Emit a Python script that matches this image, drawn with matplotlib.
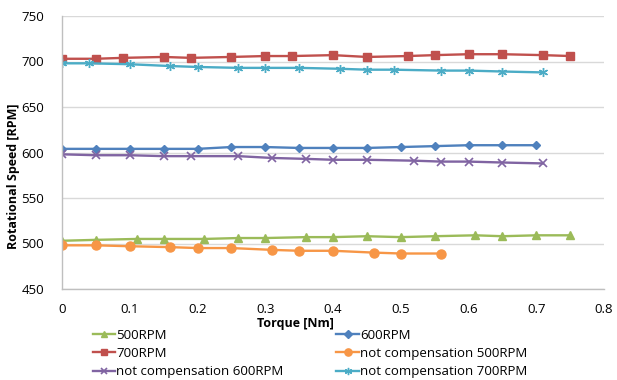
import matplotlib
matplotlib.use("Agg")
import matplotlib.pyplot as plt

plt.rcParams['font.family'] = ['Open Sans', 'DejaVu Sans']

# torque [Nm] and speed [RPM]
x_500 = [0, 0.05, 0.11, 0.15, 0.21, 0.26, 0.30, 0.36, 0.40, 0.45, 0.50, 0.55, 0.61, 0.65, 0.70, 0.75]
y_500 = [503, 504, 505, 505, 505, 506, 506, 507, 507, 508, 507, 508, 509, 508, 509, 509]

x_600 = [0, 0.05, 0.10, 0.15, 0.20, 0.25, 0.30, 0.35, 0.40, 0.45, 0.50, 0.55, 0.60, 0.65, 0.70]
y_600 = [604, 604, 604, 604, 604, 606, 606, 605, 605, 605, 606, 607, 608, 608, 608]

x_700 = [0, 0.05, 0.09, 0.15, 0.19, 0.25, 0.30, 0.34, 0.40, 0.45, 0.51, 0.55, 0.60, 0.65, 0.71, 0.75]
y_700 = [703, 703, 704, 705, 704, 705, 706, 706, 707, 705, 706, 707, 708, 708, 707, 706]

x_nc500 = [0, 0.05, 0.10, 0.16, 0.20, 0.25, 0.31, 0.35, 0.40, 0.46, 0.50, 0.56]
y_nc500 = [498, 498, 497, 496, 495, 495, 493, 492, 492, 490, 489, 489]

x_nc600 = [0, 0.05, 0.10, 0.15, 0.19, 0.26, 0.31, 0.36, 0.40, 0.45, 0.52, 0.56, 0.60, 0.65, 0.71]
y_nc600 = [598, 597, 597, 596, 596, 596, 594, 593, 592, 592, 591, 590, 590, 589, 588]

x_nc700 = [0, 0.04, 0.10, 0.16, 0.20, 0.26, 0.30, 0.35, 0.41, 0.45, 0.49, 0.56, 0.60, 0.65, 0.71]
y_nc700 = [698, 698, 697, 695, 694, 693, 693, 693, 692, 691, 691, 690, 690, 689, 688]

x_ticks = [0, 0.1, 0.2, 0.3, 0.4, 0.5, 0.6, 0.7, 0.8]
x_labels = ['0', '0.1', '0.2', '0.3', '0.4', '0.5', '0.6', '0.7', '0.8']
y_ticks = [450, 500, 550, 600, 650, 700, 750]

fig = plt.figure(figsize=(6.17, 3.80), dpi=100)
ax = fig.add_axes([62 / 617, 1 - 289 / 380, (604 - 62) / 617, (289 - 16) / 380])

lw = 1.7
h1, = ax.plot(x_500, y_500, color='#9BBB59', lw=lw, marker='^', ms=6, label='500RPM')
h2, = ax.plot(x_600, y_600, color='#4F81BD', lw=lw, marker='D', ms=4.5, label='600RPM')
h3, = ax.plot(x_700, y_700, color='#C0504D', lw=lw, marker='s', ms=6, label='700RPM')
h4, = ax.plot(x_nc500, y_nc500, color='#F79646', lw=lw, marker='o', ms=6.5,
              label='not compensation 500RPM')
h5, = ax.plot(x_nc600, y_nc600, color='#8064A2', lw=lw, marker='x', ms=5.5, mew=1.2,
              label='not compensation 600RPM')
h6, = ax.plot(x_nc700, y_nc700, color='#4BACC6', lw=lw, marker=(6, 2, 0), ms=6.5, mew=1.0,
              label='not compensation 700RPM')

ax.set_xlim(0, 0.8)
ax.set_ylim(450, 750)
ax.set_xticks(x_ticks)
ax.set_xticklabels(x_labels)
ax.set_yticks(y_ticks)
ax.tick_params(axis='both', length=0, labelsize=9.5, colors='black')
ax.tick_params(axis='y', pad=13)
ax.tick_params(axis='x', pad=10)
ax.yaxis.grid(True, color='#D9D9D9', lw=1.0)
ax.set_axisbelow(True)
for s in ['top', 'right']:
    ax.spines[s].set_visible(False)
for s in ['left', 'bottom']:
    ax.spines[s].set_color('#BFBFBF')
    ax.spines[s].set_linewidth(1.0)

fig.text(14 / 617, 1 - 176 / 380, 'Rotational Speed [RPM]', rotation=90,
         ha='center', va='center', fontsize=9, fontweight='bold')
fig.text(295 / 617, 1 - 323 / 380, 'Torque [Nm]', ha='center', va='center',
         fontsize=9, fontweight='bold')

# legend filled row by row like the reference
fig.legend(handles=[h1, h3, h5, h2, h4, h6], ncol=2, frameon=False,
           loc='upper left', bbox_to_anchor=(86 / 617, 1 - 322 / 380),
           fontsize=9.5, handlelength=1.7, handletextpad=0.1,
           columnspacing=4.0, labelspacing=0.4, borderpad=0, markerscale=0.8)

fig.savefig('out.png', dpi=100)
